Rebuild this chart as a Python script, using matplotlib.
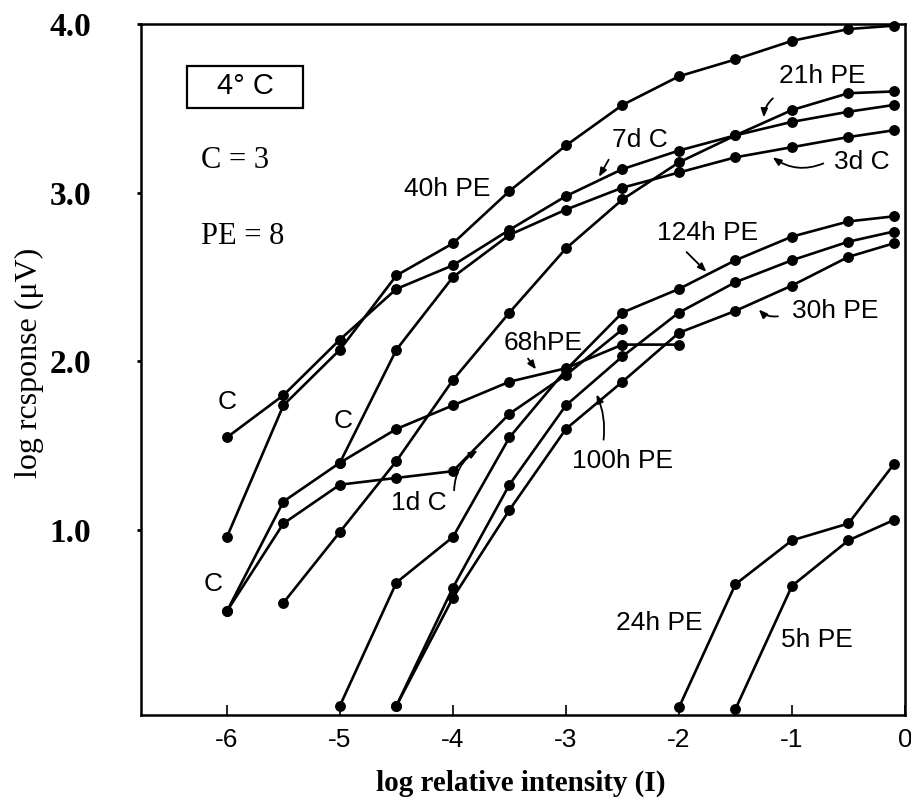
import matplotlib
matplotlib.use("Agg")
import matplotlib.pyplot as plt
from matplotlib.patches import Rectangle

# log relative intensity steps
xs = [-6, -5.5, -5, -4.5, -4, -3.5, -3, -2.5, -2, -1.5, -1, -0.5, -0.1]

h40_x = xs
h40_y = [0.96, 1.74, 2.07, 2.51, 2.70, 3.01, 3.28, 3.52, 3.69, 3.79, 3.90, 3.97, 3.99]
c7_x = xs
c7_y = [1.55, 1.80, 2.13, 2.43, 2.57, 2.78, 2.98, 3.14, 3.25, 3.34, 3.42, 3.48, 3.52]
h21_x = xs[1:]
h21_y = [0.57, 0.99, 1.41, 1.89, 2.29, 2.67, 2.96, 3.18, 3.34, 3.49, 3.59, 3.60]
c3_x = xs[2:]
c3_y = [1.40, 2.07, 2.50, 2.75, 2.90, 3.03, 3.12, 3.21, 3.27, 3.33, 3.37]
c1_x = xs[:8]
c1_y = [0.52, 1.04, 1.27, 1.31, 1.35, 1.69, 1.92, 2.19]
h68_x = xs[:9]
h68_y = [0.52, 1.17, 1.40, 1.60, 1.74, 1.88, 1.96, 2.10, 2.10]
h124_x = xs[2:]
h124_y = [-0.04, 0.69, 0.96, 1.55, 1.95, 2.29, 2.43, 2.60, 2.74, 2.83, 2.86]
h100_x = xs[3:]
h100_y = [-0.04, 0.66, 1.27, 1.74, 2.03, 2.29, 2.47, 2.60, 2.71, 2.77]
h30_x = xs[3:]
h30_y = [-0.04, 0.60, 1.12, 1.60, 1.88, 2.17, 2.30, 2.45, 2.62, 2.70]
h24_x = xs[8:]
h24_y = [-0.05, 0.68, 0.94, 1.04, 1.39]
h5_x = xs[9:]
h5_y = [-0.06, 0.67, 0.94, 1.06]

curves = [(h40_x, h40_y), (c7_x, c7_y), (h21_x, h21_y), (c3_x, c3_y),
          (c1_x, c1_y), (h68_x, h68_y), (h124_x, h124_y), (h100_x, h100_y),
          (h30_x, h30_y), (h24_x, h24_y), (h5_x, h5_y)]

sans = ["Liberation Sans", "DejaVu Sans"]
serif = ["Liberation Serif", "DejaVu Serif"]

fig = plt.figure(figsize=(9.11, 8.05), dpi=100)
ax = fig.add_axes([0.1548, 0.1118, 0.8386, 0.8584])

for x, y in curves:
    ax.plot(x, y, "-o", color="black", lw=1.9, ms=6.8, clip_on=False, zorder=3)

ax.set_xlim(-6.76, 0)
ax.set_ylim(-0.095, 4.0)
ax.set_xticks([-6, -5, -4, -3, -2, -1, 0])
ax.set_xticklabels(["-6", "-5", "-4", "-3", "-2", "-1", "0"], family=sans, fontsize=19)
ax.set_yticks([1, 2, 3, 4])
ax.set_yticklabels(["1.0", "2.0", "3.0", "4.0"], family=serif, fontsize=24, fontweight="bold")
ax.tick_params(axis="x", direction="in", length=7, width=1.2, pad=9)
ax.tick_params(axis="y", direction="out", length=3, width=2, pad=33)
for s in ax.spines.values():
    s.set_linewidth(1.8)

ax.set_xlabel("log relative intensity (I)", family=serif, fontsize=21, fontweight="bold")
ax.xaxis.set_label_coords(0.497, -0.079)
ax.set_ylabel("log rcsponse (\u03bcV)", family=serif, fontsize=23)
ax.yaxis.set_label_coords(-0.127, 0.51)

# legend-like box and counts
ax.text(-5.84, 3.63, "4\u00b0 C", family=sans, fontsize=21, ha="center", va="center")
ax.add_patch(Rectangle((-6.35, 3.50), 1.02, 0.25, fill=False, lw=1.6, color="black"))
ax.text(-6.23, 3.19, "C = 3", family=serif, fontsize=22, ha="left", va="center")
ax.text(-6.23, 2.74, "PE = 8", family=serif, fontsize=22, ha="left", va="center")

lab = dict(family=sans, fontsize=19, ha="center", va="center")
ax.text(-4.05, 3.02, "40h PE", **lab)
ax.text(-6.0, 1.76, "C", **lab)
ax.text(-4.97, 1.65, "C", **lab)
ax.text(-6.12, 0.68, "C", **lab)
ax.text(-0.73, 3.69, "21h PE", **lab)
ax.text(-2.35, 3.31, "7d C", **lab)
ax.text(-0.38, 3.18, "3d C", **lab)
ax.text(-1.75, 2.76, "124h PE", **lab)
ax.text(-0.62, 2.30, "30h PE", **lab)
ax.text(-3.2, 2.11, "68hPE", **lab)
ax.text(-2.5, 1.41, "100h PE", **lab)
ax.text(-4.3, 1.16, "1d C", **lab)
ax.text(-2.17, 0.45, "24h PE", **lab)
ax.text(-0.78, 0.35, "5h PE", **lab)

arr = dict(arrowstyle="-|>,head_length=0.5,head_width=0.2", color="black", lw=1.3)
ax.annotate("", xy=(-1.25, 3.43), xytext=(-1.15, 3.57),
            arrowprops=dict(arr, connectionstyle="arc3,rad=0.25"))
ax.annotate("", xy=(-2.72, 3.08), xytext=(-2.61, 3.21),
            arrowprops=dict(arr, connectionstyle="arc3,rad=0"))
ax.annotate("", xy=(-1.19, 3.22), xytext=(-0.70, 3.18),
            arrowprops=dict(arr, connectionstyle="arc3,rad=-0.3"))
ax.annotate("", xy=(-1.74, 2.52), xytext=(-1.95, 2.66),
            arrowprops=dict(arr, connectionstyle="arc3,rad=0"))
ax.annotate("", xy=(-1.31, 2.32), xytext=(-1.10, 2.27),
            arrowprops=dict(arr, connectionstyle="arc3,rad=-0.3"))
ax.annotate("", xy=(-3.25, 1.94), xytext=(-3.35, 2.03),
            arrowprops=dict(arr, connectionstyle="arc3,rad=0"))
ax.annotate("", xy=(-2.74, 1.82), xytext=(-2.67, 1.52),
            arrowprops=dict(arr, connectionstyle="arc3,rad=0.15"))
ax.annotate("", xy=(-3.76, 1.48), xytext=(-3.99, 1.22),
            arrowprops=dict(arr, connectionstyle="arc3,rad=-0.3"))

fig.savefig("out.png", dpi=100)
